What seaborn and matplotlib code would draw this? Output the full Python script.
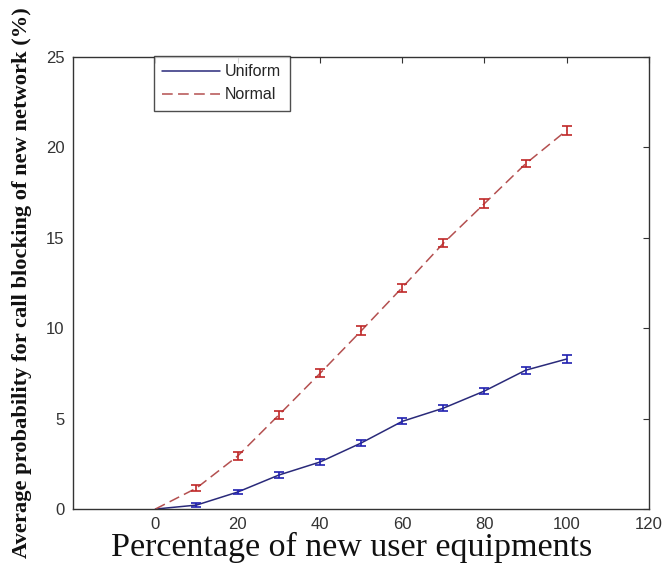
import matplotlib
matplotlib.use("Agg")
import matplotlib.pyplot as plt
import seaborn as sns
import pandas as pd
import numpy as np

x_vals = [0, 10, 20, 30, 40, 50, 60, 70, 80, 90, 100]
uniform = [0.0, 0.22, 0.94, 1.88, 2.6, 3.65, 4.85, 5.58, 6.53, 7.68, 8.3]
normal = [0.0, 1.16, 2.93, 5.2, 7.5, 9.85, 12.25, 14.7, 16.9, 19.1, 20.95]
uniform_err = [0.0, 0.1, 0.12, 0.15, 0.15, 0.17, 0.17, 0.17, 0.17, 0.2, 0.2]
normal_err = [0.0, 0.15, 0.2, 0.22, 0.22, 0.25, 0.22, 0.22, 0.25, 0.2, 0.25]
series_names = ["Uniform", "Normal"]
x_ticks = [0, 20, 40, 60, 80, 100, 120]
y_ticks = [0, 5, 10, 15, 20, 25]

sns.set_style("white")
plt.rcParams["font.family"] = ["Liberation Sans", "DejaVu Sans"]

df = pd.DataFrame({
    "x": x_vals * 2,
    "y": uniform + normal,
    "series": [series_names[0]] * len(x_vals) + [series_names[1]] * len(x_vals),
})

fig = plt.figure(figsize=(6.64, 5.65), dpi=100)
ax = fig.add_axes([0.110, 0.099, 0.8675, 0.80])

line_colors = {"Uniform": "#2a2a7a", "Normal": "#b45050"}
sns.lineplot(data=df, x="x", y="y", hue="series", style="series",
             palette=line_colors, dashes={"Uniform": "", "Normal": (7, 3.5)},
             linewidth=1.1, ax=ax, legend=True)

ax.errorbar(x_vals[1:], uniform[1:], yerr=uniform_err[1:], fmt="none",
            ecolor="#2020b0", elinewidth=1.2, capsize=3.5, capthick=1.2)
ax.errorbar(x_vals[1:], normal[1:], yerr=normal_err[1:], fmt="none",
            ecolor="#c02828", elinewidth=1.2, capsize=3.5, capthick=1.2)

ax.set_xlim(-20, 120)
ax.set_ylim(0, 25)
ax.set_xticks(x_ticks)
ax.set_yticks(y_ticks)
ax.tick_params(direction="in", length=4, top=True, right=True,
               labelsize=12, labelcolor="#333333", color="#333333", pad=6)
for s in ax.spines.values():
    s.set_color("#333333")
    s.set_linewidth(1.0)

ax.set_xlabel("Percentage of new user equipments", family="Liberation Serif",
              fontsize=24.5, labelpad=0, color="#111111")
ax.xaxis.set_label_coords(0.484, -0.050)
ax.xaxis.label.set_va("top")
ax.set_ylabel("Average probability for call blocking of new network (%)",
              family="Liberation Serif", fontweight="bold", fontsize=16.2,
              color="#111111")
ax.yaxis.set_label_coords(-0.071, 0.50)

leg = ax.legend(title=None, loc="upper left", bbox_to_anchor=(0.14, 1.003),
                frameon=True, fancybox=False, fontsize=11.5, borderpad=0.55,
                handlelength=3.6, labelspacing=0.5, borderaxespad=0,
                handletextpad=0.3)
leg.get_frame().set_edgecolor("#222222")
leg.get_frame().set_linewidth(1.0)

fig.savefig("out.png", dpi=100)
